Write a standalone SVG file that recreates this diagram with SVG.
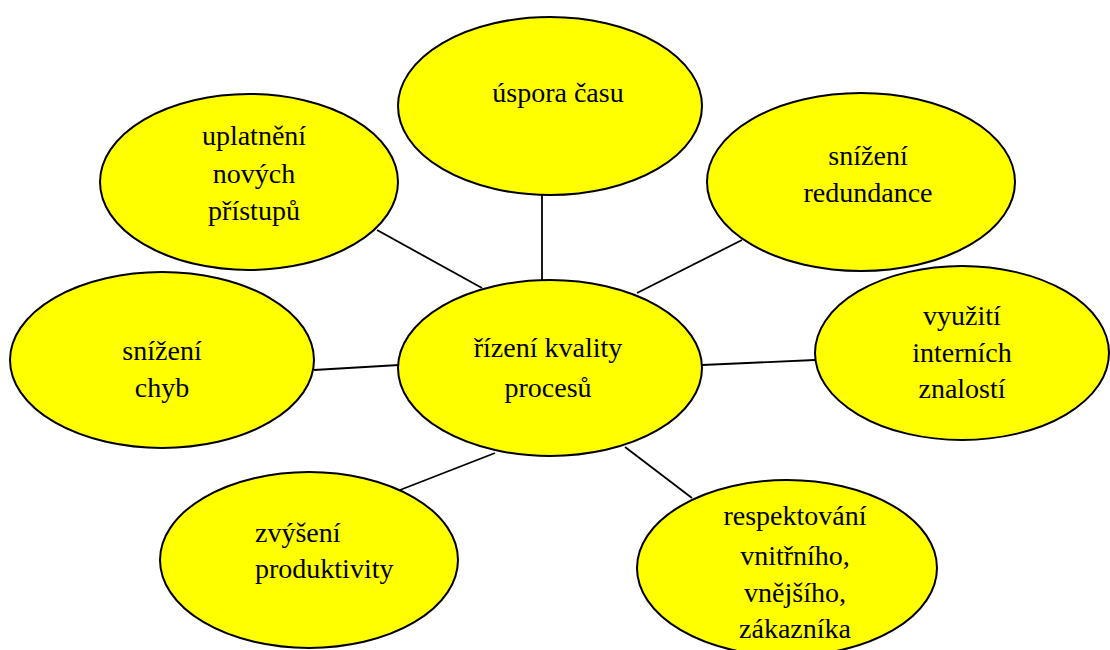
<svg xmlns="http://www.w3.org/2000/svg" width="1110" height="650" viewBox="0 0 1110 650">
  <style>
    .bubble { fill: #ffff00; stroke: #000; stroke-width: 2; }
    .link { stroke: #000; stroke-width: 1.8; fill: none; }
    text { font-family: "Liberation Serif", "Times New Roman", serif; font-size: 28px; fill: #000; }
    .c { text-anchor: middle; }
  </style>
  <rect width="1110" height="650" fill="#fff"/>

  <!-- spokes from the hub to each outer bubble -->
  <g id="connectors">
    <line class="link" x1="542" y1="195" x2="542" y2="280"/>
    <line class="link" x1="377" y1="230" x2="482" y2="288"/>
    <line class="link" x1="637" y1="293" x2="742" y2="240"/>
    <line class="link" x1="314" y1="370" x2="399" y2="365"/>
    <line class="link" x1="702" y1="365" x2="815" y2="360"/>
    <line class="link" x1="495" y1="453" x2="400" y2="490"/>
    <line class="link" x1="625" y1="447" x2="692" y2="498"/>
  </g>

  <g id="n-uspora">
    <ellipse class="bubble" cx="550" cy="106" rx="152" ry="89"/>
    <text class="c" x="558" y="102">úspora času</text>
  </g>

  <g id="n-uplatneni">
    <ellipse class="bubble" cx="249" cy="182" rx="149" ry="88"/>
    <text class="c" x="254" y="145">uplatnění</text>
    <text class="c" x="254" y="183">nových</text>
    <text class="c" x="254" y="220">přístupů</text>
  </g>

  <g id="n-redundance">
    <ellipse class="bubble" cx="861" cy="182" rx="154" ry="89"/>
    <text class="c" x="868" y="165">snížení</text>
    <text class="c" x="868" y="202">redundance</text>
  </g>

  <g id="n-chyby">
    <ellipse class="bubble" cx="162" cy="360" rx="152" ry="88"/>
    <text class="c" x="162" y="360">snížení</text>
    <text class="c" x="162" y="397">chyb</text>
  </g>

  <g id="n-hub">
    <ellipse class="bubble" cx="550" cy="368" rx="152" ry="88"/>
    <text class="c" x="548" y="357">řízení kvality</text>
    <text class="c" x="548" y="397">procesů</text>
  </g>

  <g id="n-znalosti">
    <ellipse class="bubble" cx="962" cy="353" rx="147" ry="87"/>
    <text class="c" x="962" y="325">využití</text>
    <text class="c" x="962" y="362">interních</text>
    <text class="c" x="962" y="398">znalostí</text>
  </g>

  <g id="n-produktivita">
    <ellipse class="bubble" cx="309" cy="560" rx="149" ry="88"/>
    <text x="255" y="542">zvýšení</text>
    <text x="255" y="578">produktivity</text>
  </g>

  <g id="n-zakaznik">
    <ellipse class="bubble" cx="787" cy="568" rx="150" ry="88"/>
    <text class="c" x="795" y="525">respektování</text>
    <text class="c" x="795" y="565">vnitřního,</text>
    <text class="c" x="795" y="602">vnějšího,</text>
    <text class="c" x="795" y="638">zákazníka</text>
  </g>
</svg>
